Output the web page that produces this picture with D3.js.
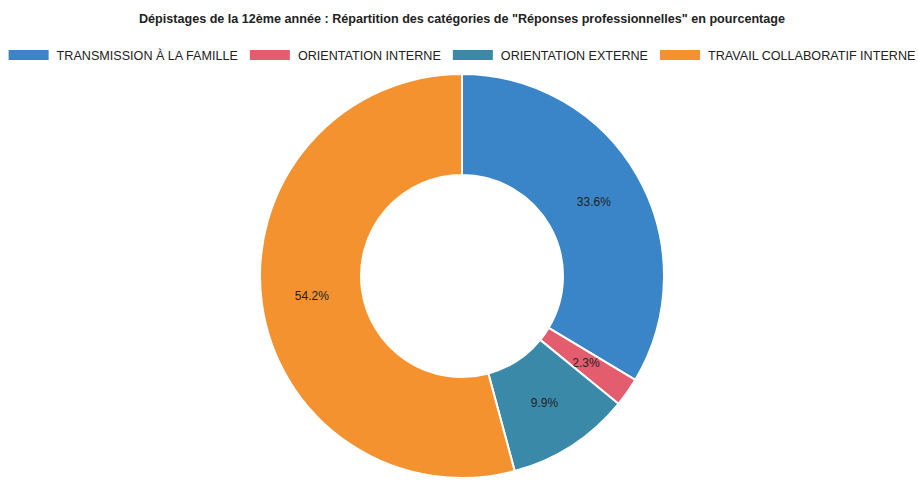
<!DOCTYPE html>
<html>
<head>
<meta charset="utf-8">
<script src="https://cdn.jsdelivr.net/npm/d3@7"></script>
<style>
    body { margin: 0; background: #ffffff; }
    text { font-family: "Liberation Sans", Arial, sans-serif; }
</style>
</head>
<body>
<div id="chart"></div>
<script>
// Chart data
var categories = ["TRANSMISSION À LA FAMILLE", "ORIENTATION INTERNE", "ORIENTATION EXTERNE", "TRAVAIL COLLABORATIF INTERNE"];
var percentages = [33.6, 2.3, 9.9, 54.2];
var colors = ["#3a85c8", "#e35d6e", "#3a89a9", "#f4922f"];
var title = "Dépistages de la 12ème année : Répartition des catégories de \"Réponses professionnelles\" en pourcentage";

var width = 918;
var height = 482;

var svg = d3.select("#chart").append("svg")
    .attr("width", width)
    .attr("height", height);

// Title
svg.append("text")
    .attr("x", 462)
    .attr("y", 23)
    .style("text-anchor", "middle")
    .style("font-size", "12.6px")
    .style("font-weight", "700")
    .style("fill", "#222")
    .text(title);

var pieData = categories.map(function (c, i) {
    return { label: c, value: percentages[i], color: colors[i] };
});

// Legend, centered row
var legend = svg.append("g");
var x = 0;
pieData.forEach(function (d) {
    var g = legend.append("g").attr("transform", `translate(${x},0)`);
    g.append("rect")
        .attr("width", 40)
        .attr("height", 10)
        .attr("fill", d.color);
    var t = g.append("text")
        .attr("x", 48)
        .attr("y", 10)
        .style("font-size", "12.6px")
        .style("fill", "#222")
        .text(d.label);
    x += 48 + t.node().getComputedTextLength() + 12;
});
var legendWidth = x - 12;
legend.attr("transform", `translate(${(width - legendWidth) / 2 + 3}, 50)`);

// Donut
var radius = 202;
var color = d3.scaleOrdinal()
    .domain(categories)
    .range(colors);

var arc = d3.arc()
    .outerRadius(radius)
    .innerRadius(radius / 2);

var labelArc = d3.arc()
    .outerRadius(radius * 0.75)
    .innerRadius(radius * 0.75);

var pie = d3.pie()
    .sort(null)
    .value(d => d.value);

var g = svg.append("g")
    .attr("transform", `translate(${462}, ${276})`);

var arcs = g.selectAll(".arc")
    .data(pie(pieData))
    .enter()
    .append("g")
    .attr("class", "arc");

arcs.append("path")
    .attr("d", arc)
    .attr("fill", d => color(d.data.label))
    .style("stroke", "white")
    .style("stroke-width", 2);

arcs.append("text")
    .attr("transform", d => `translate(${labelArc.centroid(d)})`)
    .attr("dy", "0.35em")
    .style("text-anchor", "middle")
    .style("font-size", "12px")
    .style("fill", "#222")
    .text(d => d.data.value.toFixed(1) + "%");
</script>
</body>
</html>
